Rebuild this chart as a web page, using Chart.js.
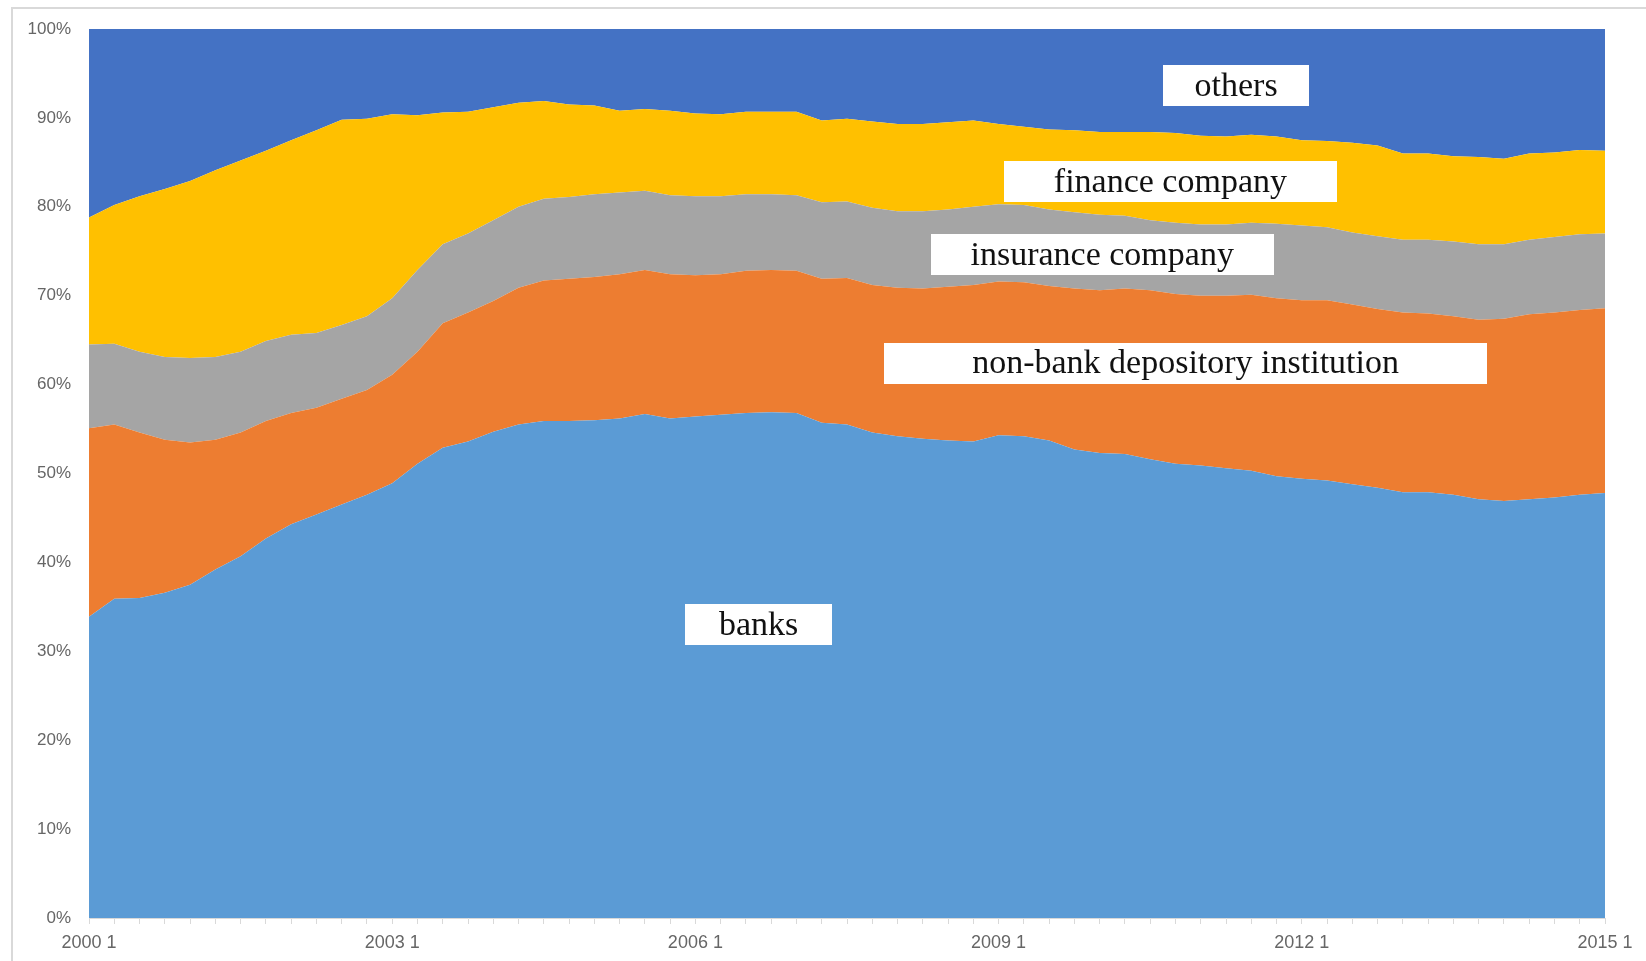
<!DOCTYPE html>
<html>
<head>
<meta charset="utf-8">
<title>Financial assets by sector</title>
<script src="https://cdn.jsdelivr.net/npm/chart.js@4.4.1/dist/chart.umd.min.js"></script>
<style>
  html, body { margin: 0; padding: 0; background: #fff; overflow: hidden; }
  #lienzo { position: relative; width: 1646px; height: 961px; }
  /* marco gris del gráfico (sólo se ven borde izquierdo y superior) */
  #marco {
    position: absolute; left: 11px; top: 7px;
    width: 1700px; height: 1000px;
    border: 2px solid #d9d9d9; box-sizing: border-box;
    pointer-events: none;
  }
</style>
</head>
<body>
<div id="lienzo">
  <div id="marco"></div>
  <canvas id="grafica"></canvas>
</div>
<script>
// Trimestres 2000 T1 .. 2015 T1
const quarters = [
  '2000 1', '2000 2', '2000 3', '2000 4', '2001 1', '2001 2', '2001 3', '2001 4',
  '2002 1', '2002 2', '2002 3', '2002 4', '2003 1', '2003 2', '2003 3', '2003 4',
  '2004 1', '2004 2', '2004 3', '2004 4', '2005 1', '2005 2', '2005 3', '2005 4',
  '2006 1', '2006 2', '2006 3', '2006 4', '2007 1', '2007 2', '2007 3', '2007 4',
  '2008 1', '2008 2', '2008 3', '2008 4', '2009 1', '2009 2', '2009 3', '2009 4',
  '2010 1', '2010 2', '2010 3', '2010 4', '2011 1', '2011 2', '2011 3', '2011 4',
  '2012 1', '2012 2', '2012 3', '2012 4', '2013 1', '2013 2', '2013 3', '2013 4',
  '2014 1', '2014 2', '2014 3', '2014 4', '2015 1'
];

// Participación (%) de cada sector por trimestre
const banks = [
  33.9, 35.9, 36.0, 36.6, 37.5, 39.2, 40.7, 42.7, 44.3, 45.4,
  46.5, 47.6, 48.9, 51.1, 52.9, 53.6, 54.7, 55.5, 55.9, 55.9,
  56.0, 56.2, 56.7, 56.2, 56.4, 56.6, 56.8, 56.9, 56.8, 55.7,
  55.5, 54.6, 54.2, 53.9, 53.7, 53.6, 54.3, 54.2, 53.7, 52.7,
  52.3, 52.2, 51.6, 51.1, 50.9, 50.6, 50.3, 49.7, 49.4, 49.2,
  48.8, 48.4, 47.9, 47.9, 47.6, 47.1, 46.9, 47.1, 47.3, 47.6,
  47.8
];
const nonBankDepository = [
  21.2, 19.6, 18.6, 17.2, 16.0, 14.6, 13.9, 13.2, 12.5, 12.0,
  11.9, 11.8, 12.2, 12.6, 14.0, 14.5, 14.7, 15.4, 15.8, 16.0,
  16.1, 16.2, 16.2, 16.2, 15.9, 15.8, 16.0, 16.0, 16.0, 16.2,
  16.5, 16.6, 16.7, 16.9, 17.3, 17.6, 17.3, 17.3, 17.4, 18.1,
  18.3, 18.6, 19.0, 19.1, 19.1, 19.4, 19.8, 20.0, 20.1, 20.3,
  20.2, 20.1, 20.2, 20.1, 20.1, 20.2, 20.5, 20.8, 20.8, 20.8,
  20.8
];
const insurance = [
  9.4, 9.1, 9.1, 9.3, 9.5, 9.3, 9.1, 9.0, 8.8, 8.4,
  8.3, 8.3, 8.6, 9.2, 8.9, 8.9, 9.1, 9.1, 9.2, 9.2,
  9.3, 9.2, 8.9, 8.9, 8.9, 8.8, 8.6, 8.5, 8.5, 8.6,
  8.6, 8.7, 8.6, 8.7, 8.7, 8.8, 8.7, 8.7, 8.6, 8.6,
  8.5, 8.2, 7.9, 8.0, 8.0, 8.0, 8.1, 8.4, 8.4, 8.2,
  8.1, 8.2, 8.2, 8.3, 8.4, 8.5, 8.4, 8.4, 8.5, 8.5,
  8.4
];
const finance = [
  14.3, 15.6, 17.5, 18.9, 19.9, 21.0, 21.5, 21.4, 21.9, 22.8,
  23.1, 22.2, 20.7, 17.4, 14.8, 13.7, 12.7, 11.7, 11.0, 10.4,
  10.0, 9.2, 9.2, 9.5, 9.3, 9.2, 9.3, 9.3, 9.4, 9.2,
  9.3, 9.7, 9.8, 9.8, 9.8, 9.7, 9.0, 8.8, 9.0, 9.2,
  9.3, 9.4, 9.9, 10.1, 10.0, 9.9, 9.9, 9.8, 9.6, 9.7,
  10.1, 10.2, 9.7, 9.7, 9.6, 9.8, 9.6, 9.7, 9.5, 9.5,
  9.3
];
const others = [
  21.2, 19.8, 18.8, 18.0, 17.1, 15.9, 14.8, 13.7, 12.5, 11.4,
  10.2, 10.1, 9.6, 9.7, 9.4, 9.3, 8.8, 8.3, 8.1, 8.5,
  8.6, 9.2, 9.0, 9.2, 9.5, 9.6, 9.3, 9.3, 9.3, 10.3,
  10.1, 10.4, 10.7, 10.7, 10.5, 10.3, 10.7, 11.0, 11.3, 11.4,
  11.6, 11.6, 11.6, 11.7, 12.0, 12.1, 11.9, 12.1, 12.5, 12.6,
  12.8, 13.1, 14.0, 14.0, 14.3, 14.4, 14.6, 14.0, 13.9, 13.6,
  13.7
];

const yTicks = [0, 10, 20, 30, 40, 50, 60, 70, 80, 90, 100];

const COLORES = {
  banks: '#5B9BD5',
  nonBank: '#ED7D31',
  insurance: '#A5A5A5',
  finance: '#FFC000',
  others: '#4472C4',
  ejes: '#d9d9d9',
  texto: '#666666'
};

// Etiquetas en recuadro blanco; ancla = (índice de trimestre, % en el eje y)
const ETIQUETAS = [
  { texto: 'others', idx: 45.4, pct: 93.6, ancho: 146 },
  { texto: 'finance company', idx: 42.8, pct: 82.8, ancho: 333 },
  { texto: 'insurance company', idx: 40.1, pct: 74.6, ancho: 343 },
  { texto: 'non-bank depository institution', idx: 43.4, pct: 62.4, ancho: 603 },
  { texto: 'banks', idx: 26.5, pct: 33.0, ancho: 147 }
];

const pluginEtiquetas = {
  id: 'etiquetas',
  afterDatasetsDraw(chart) {
    const { ctx, scales } = chart;
    ctx.save();
    ctx.font = '34px "Liberation Serif", "Times New Roman", serif';
    ctx.textAlign = 'center';
    ctx.textBaseline = 'middle';
    ETIQUETAS.forEach((e) => {
      const cx = scales.x.getPixelForValue(e.idx);
      const cy = scales.y.getPixelForValue(e.pct);
      const alto = 41;
      ctx.fillStyle = '#ffffff';
      ctx.fillRect(Math.round(cx - e.ancho / 2), Math.round(cy - alto / 2), e.ancho, alto);
      ctx.fillStyle = '#111111';
      ctx.fillText(e.texto, cx, cy + 1);
    });
    ctx.restore();
  }
};

function serie(label, data, color, fill) {
  return {
    label,
    data,
    backgroundColor: color,
    borderColor: color,
    borderWidth: 0,
    pointRadius: 0,
    tension: 0,
    fill
  };
}

const familia = "'Liberation Sans', Arial, sans-serif";

new Chart(document.getElementById('grafica'), {
  type: 'line',
  data: {
    labels: quarters,
    datasets: [
      serie('banks', banks, COLORES.banks, 'origin'),
      serie('non-bank depository institution', nonBankDepository, COLORES.nonBank, '-1'),
      serie('insurance company', insurance, COLORES.insurance, '-1'),
      serie('finance company', finance, COLORES.finance, '-1'),
      serie('others', others, COLORES.others, '-1')
    ]
  },
  options: {
    responsive: true,
    maintainAspectRatio: false,
    animation: false,
    layout: { padding: { top: 29, right: 41, left: 0, bottom: 0 } },
    plugins: {
      legend: { display: false },
      tooltip: { enabled: false }
    },
    scales: {
      x: {
        offset: false,
        grid: {
          display: true,
          drawOnChartArea: false,
          drawTicks: true,
          tickLength: 6,
          color: COLORES.ejes,
          offset: false
        },
        border: { display: true, color: COLORES.ejes },
        ticks: {
          autoSkip: false,
          maxRotation: 0,
          minRotation: 0,
          padding: 8,
          color: COLORES.texto,
          font: { family: familia, size: 18 },
          callback: (valor, i) => (i % 12 === 0 ? quarters[i] : '')
        },
        afterFit: (escala) => { escala.height = 43; }
      },
      y: {
        stacked: true,
        min: 0,
        max: 100,
        grid: { display: false, drawTicks: false },
        border: { display: true, color: COLORES.ejes },
        afterBuildTicks: (escala) => { escala.ticks = yTicks.map((v) => ({ value: v })); },
        ticks: {
          padding: 18,
          color: COLORES.texto,
          font: { family: familia, size: 17 },
          callback: (valor) => valor + '%'
        },
        afterFit: (escala) => { escala.width = 89; }
      }
    }
  },
  plugins: [pluginEtiquetas]
});
</script>
</body>
</html>
